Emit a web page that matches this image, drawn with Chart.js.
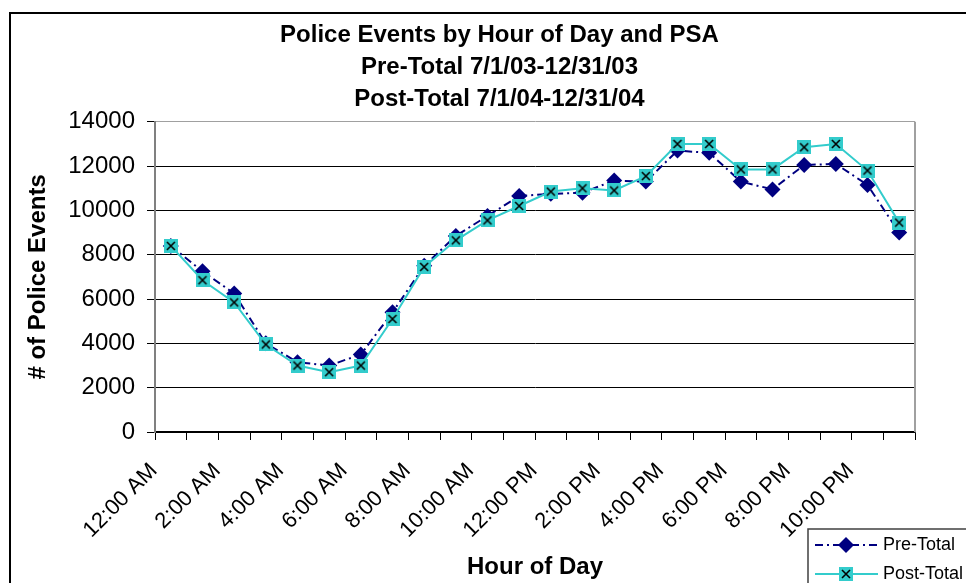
<!DOCTYPE html>
<html>
<head>
<meta charset="utf-8">
<script src="https://cdn.jsdelivr.net/npm/chart.js@4.4.1/dist/chart.umd.min.js"></script>
<style>
  html, body { margin: 0; padding: 0; background: #fff; overflow: hidden; }
  #wrap { position: relative; width: 966px; height: 583px; overflow: hidden; }
  #frame { position: absolute; left: 9px; top: 12px; width: 1000px; height: 620px; border: 2px solid #000; box-sizing: border-box; }
  #chart { position: absolute; left: 0; top: 0; }
</style>
</head>
<body>
<div id="wrap">
  <div id="frame"></div>
  <canvas id="chart" width="966" height="583"></canvas>
</div>
<script>
const hours = [
  "12:00 AM", "1:00 AM", "2:00 AM", "3:00 AM", "4:00 AM", "5:00 AM",
  "6:00 AM", "7:00 AM", "8:00 AM", "9:00 AM", "10:00 AM", "11:00 AM",
  "12:00 PM", "1:00 PM", "2:00 PM", "3:00 PM", "4:00 PM", "5:00 PM",
  "6:00 PM", "7:00 PM", "8:00 PM", "9:00 PM", "10:00 PM", "11:00 PM",
];
const preTotal = [
  8400, 7250, 6250, 4000, 3150, 3000, 3500, 5400, 7500, 8850, 9750, 10650,
  10750, 10800, 11350, 11300, 12700, 12600, 11300, 10950, 12050, 12100, 11150, 9000,
];
const postTotal = [
  8400, 6850, 5850, 3950, 3000, 2700, 3000, 5100, 7450, 8650, 9550, 10200,
  10850, 11000, 10900, 11550, 13000, 13000, 11850, 11850, 12850, 13000, 11800, 9450,
];
const yTicks = [0, 2000, 4000, 6000, 8000, 10000, 12000, 14000];
const titleLines = [
  "Police Events by Hour of Day and PSA",
  "Pre-Total 7/1/03-12/31/03",
  "Post-Total 7/1/04-12/31/04",
];

const NAVY = "#000080";
const TEAL = "#33cccc";
Chart.defaults.font.family = "'Liberation Sans', Arial, sans-serif";
Chart.defaults.color = "#000";

// cyan square with a black cross, used as the Post-Total marker
function crossBox(size) {
  const c = document.createElement("canvas");
  c.width = size;
  c.height = size;
  const g = c.getContext("2d");
  g.fillStyle = TEAL;
  g.fillRect(0, 0, size, size);
  g.strokeStyle = "#000";
  g.lineWidth = 1.6;
  g.beginPath();
  g.moveTo(3, 3);
  g.lineTo(size - 3, size - 3);
  g.moveTo(size - 3, 3);
  g.lineTo(3, size - 3);
  g.stroke();
  return c;
}
const postMarker = crossBox(14);

const plotFrame = {
  id: "plotFrame",
  beforeDatasetsDraw(chart) {
    const { ctx, chartArea: a } = chart;
    ctx.save();
    ctx.strokeStyle = "#a0a0a0";
    ctx.lineWidth = 2;
    ctx.beginPath();
    ctx.moveTo(a.right, a.top);
    ctx.lineTo(a.right, a.bottom);
    ctx.stroke();
    ctx.restore();
  },
};

// Excel-style legend: line sample with the marker in the middle, boxed
const boxLegend = {
  id: "boxLegend",
  afterDraw(chart) {
    const { ctx } = chart;
    const left = chart.width - 158;
    const top = chart.height - 54;
    ctx.save();
    ctx.fillStyle = "#fff";
    ctx.fillRect(left, top, 200, 100);
    ctx.strokeStyle = "#404040";
    ctx.lineWidth = 1.5;
    ctx.strokeRect(left, top, 200, 100);
    chart.data.datasets.forEach((ds, i) => {
      const y = top + 16 + i * 29;
      ctx.strokeStyle = ds.borderColor;
      ctx.lineWidth = ds.borderWidth;
      ctx.setLineDash(ds.borderDash || []);
      ctx.beginPath();
      ctx.moveTo(left + 7, y);
      ctx.lineTo(left + 70, y);
      ctx.stroke();
      ctx.setLineDash([]);
      ctx.fillStyle = ds.pointBackgroundColor;
      Chart.helpers.drawPoint(ctx, {
        pointStyle: ds.pointStyle,
        radius: ds.pointRadius,
        rotation: 0,
        borderWidth: 0,
      }, left + 38, y);
      ctx.fillStyle = "#000";
      ctx.font = "18px 'Liberation Sans', Arial, sans-serif";
      ctx.textBaseline = "middle";
      ctx.fillText(ds.label, left + 75, y);
    });
    ctx.restore();
  },
};

new Chart(document.getElementById("chart"), {
  type: "line",
  data: {
    labels: hours,
    datasets: [
      {
        label: "Pre-Total",
        data: preTotal,
        borderColor: NAVY,
        borderWidth: 2,
        borderDash: [8, 4, 2, 4],
        pointStyle: "rectRot",
        pointRadius: 8,
        pointBackgroundColor: NAVY,
        pointBorderWidth: 0,
        order: 2,
      },
      {
        label: "Post-Total",
        data: postTotal,
        borderColor: TEAL,
        borderWidth: 2,
        pointStyle: postMarker,
        pointRadius: 7,
        pointBackgroundColor: TEAL,
        order: 1,
      },
    ],
  },
  options: {
    responsive: false,
    animation: false,
    layout: { padding: { left: 33, right: 0, top: 0, bottom: 0 } },
    plugins: {
      legend: { display: false },
      tooltip: { enabled: false },
      title: {
        display: true,
        text: titleLines,
        color: "#000",
        font: { size: 24, weight: "bold", lineHeight: 31.6 / 24 },
        padding: { top: 20, bottom: 7 },
      },
    },
    scales: {
      x: {
        offset: true,
        grid: {
          offset: true,
          drawOnChartArea: false,
          color: "#000",
          tickLength: 8,
        },
        border: { color: "#000", width: 1.5 },
        ticks: {
          autoSkip: false,
          minRotation: 45,
          maxRotation: 45,
          padding: 18,
          labelOffset: -17,
          font: { size: 22 },
          callback: (v, i) => (i % 2 === 0 ? hours[i] : ""),
        },
        title: {
          display: true,
          text: "Hour of Day",
          font: { size: 24, weight: "bold" },
          padding: { top: 0, bottom: 1 },
        },
        afterFit: (s) => { s.height = 151; },
      },
      y: {
        min: yTicks[0],
        max: yTicks[yTicks.length - 1],
        afterBuildTicks: (s) => { s.ticks = yTicks.map((v) => ({ value: v })); },
        grid: {
          color: (c) => (c.tick && c.tick.value === 14000 ? "#a0a0a0" : "#000"),
          lineWidth: 1,
          tickColor: "#000",
          tickLength: 8,
        },
        border: { color: "#808080", width: 2 },
        ticks: { padding: 12, font: { size: 24 }, callback: (v) => String(v) },
        title: {
          display: true,
          text: "# of Police Events",
          font: { size: 24, weight: "bold", lineHeight: 0.5 },
          padding: { top: -1, bottom: 0 },
        },
        afterFit: (s) => { s.width = 122; },
      },
      // empty right-hand axis, only reserves the margin right of the plot
      yRight: {
        position: "right",
        grid: { display: false },
        border: { display: false },
        ticks: { display: false },
        afterFit: (s) => { s.width = 51; },
      },
    },
  },
  plugins: [plotFrame, boxLegend],
});
</script>
</body>
</html>
